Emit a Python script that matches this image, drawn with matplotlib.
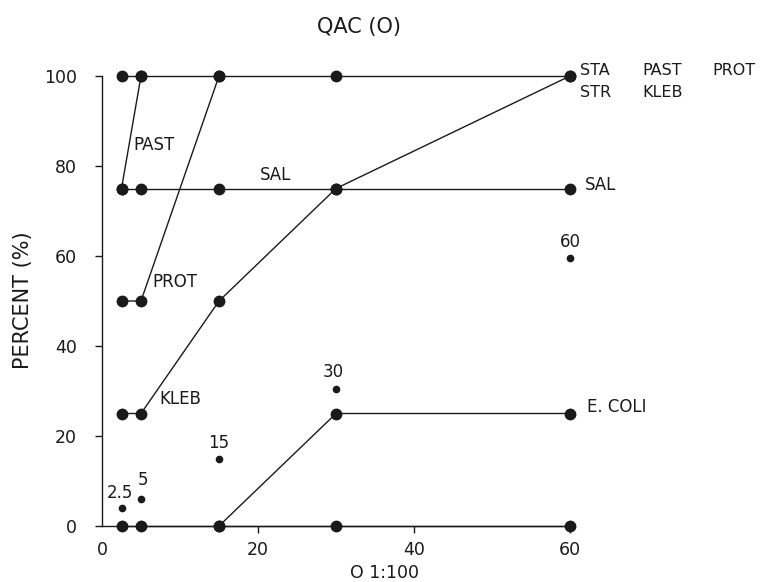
import matplotlib
matplotlib.use("Agg")
import matplotlib.pyplot as plt

plt.rcParams['font.family'] = ['DejaVu Sans']

# concentrations (x) and percent values for each organism
conc = [2.5, 5, 15, 30, 60]
top_100 = [100, 100, 100, 100, 100]      # STA, STR, PAST, PROT, KLEB end
sal = [75, 75, 75, 75, 75]
kleb = [25, 25, 50, 75, 100]
ecoli_zero = [0, 0, 0, 0, 0]
ecoli_x = [15, 30, 60]
ecoli = [0, 25, 25]
past_x = [2.5, 5]
past = [75, 100]
prot_x = [2.5, 5, 15]
prot = [50, 50, 100]

# small reference dots labelled with concentration
ref_vals = [4, 6, 15, 30.5, 59.5]
ref_labels = ["2.5", "5", "15", "30", "60"]

ink = "#1a1a1a"
fig = plt.figure(figsize=(7.67, 5.82), dpi=100)
ax = fig.add_axes([102/767, 56/582, 468/767, 450/582])
ax.set_xlim(0, 60)
ax.set_ylim(0, 100)

lw = 1.0
ms = 7.5
def series(x, y):
    ax.plot(x, y, color=ink, lw=lw, marker='o', ms=ms, clip_on=False, zorder=3)

series(conc, top_100)
series(conc, sal)
series(conc, kleb)
series(conc, ecoli_zero)
series(ecoli_x, ecoli)
series(past_x, past)
series(prot_x, prot)

ax.plot(conc, ref_vals, 'o', color=ink, ms=4.5, clip_on=False, zorder=3)
ref_off = [3.3, 4.2, 3.4, 3.7, 3.6]
ref_dx = [-0.2, 0.3, 0, -0.4, 0]
for x, y, s, dy, dx in zip(conc, ref_vals, ref_labels, ref_off, ref_dx):
    ax.text(x + dx, y + dy, s, ha='center', va='center', fontsize=12, color=ink)

fs = 12
ax.text(4.0, 84.7, "PAST", fontsize=fs, va='center', color=ink)
ax.text(20.3, 78.0, "SAL", fontsize=fs, va='center', color=ink)
ax.text(6.5, 54.2, "PROT", fontsize=fs, va='center', color=ink)
ax.text(7.3, 28.2, "KLEB", fontsize=fs, va='center', color=ink)
ax.text(62.2, 26.4, "E. COLI", fontsize=fs, va='center', color=ink)
ax.text(61.9, 75.8, "SAL", fontsize=fs, va='center', color=ink)
fr = 11.5
ax.text(61.3, 101.3, "STA", fontsize=fr, va='center', color=ink)
ax.text(69.3, 101.3, "PAST", fontsize=fr, va='center', color=ink)
ax.text(78.2, 101.3, "PROT", fontsize=fr, va='center', color=ink)
ax.text(61.3, 96.4, "STR", fontsize=fr, va='center', color=ink)
ax.text(69.3, 96.4, "KLEB", fontsize=fr, va='center', color=ink)

for s in ['top', 'right']:
    ax.spines[s].set_visible(False)
for s in ['left', 'bottom']:
    ax.spines[s].set_color(ink)
    ax.spines[s].set_linewidth(lw)

ax.set_xticks([0, 20, 40, 60])
ax.set_yticks([0, 20, 40, 60, 80, 100])
ax.tick_params(axis='both', colors=ink, labelsize=12.5, width=lw, length=5,
               direction='out')
ax.tick_params(axis='y', pad=13)
ax.tick_params(axis='x', pad=6)
ax.xaxis.get_major_ticks()[0].tick1line.set_visible(False)

fig.text(23/767, 1 - 300/582, "PERCENT (%)", rotation=90, ha='center',
         va='center', fontsize=15, color=ink)
fig.text(385/767, 1 - 573/582, "O 1:100", ha='center', va='center',
         fontsize=12.5, color=ink)
fig.text(359/767, 1 - 27/582, "QAC (O)", ha='center', va='center',
         fontsize=15, color=ink)

fig.savefig("out.png", dpi=100, facecolor='white')
